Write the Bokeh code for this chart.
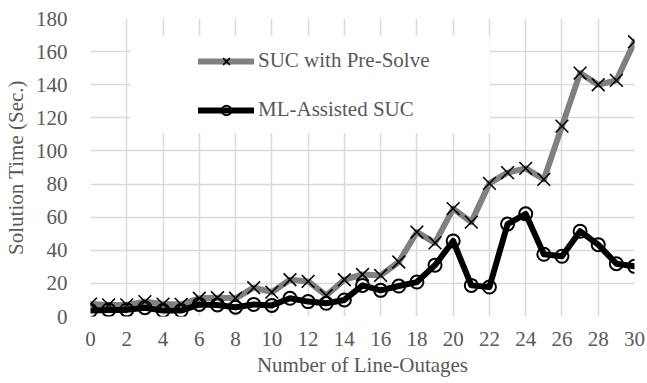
from bokeh.plotting import figure
from bokeh.models import Range1d, FixedTicker, Legend, LegendItem, BoxAnnotation
from bokeh.embed import file_html
from bokeh.resources import INLINE

outages = list(range(0, 31))
suc_presolve = [7.5, 7, 7, 9, 7.5, 7.3, 11, 11.3, 11, 17.4, 14.7,
                22.2, 21.2, 12.7, 22.2, 25.4, 24.8, 32.9, 51, 44.5, 65.2,
                57, 80.4, 86.9, 89.5, 82.8, 115, 147, 140, 142.6, 166]
ml_assisted = [3.6, 4, 4, 5.3, 3.6, 3.6, 7.3, 7, 5.6, 7.3, 6.7,
               11, 9, 8, 10, 18.8, 15.8, 18.4, 20.8, 31, 45.6,
               18.8, 17.8, 55.8, 62, 37.6, 36.4, 51.5, 43.4, 31.9, 30.3]
x_ticks = list(range(0, 31, 2))
y_ticks = list(range(0, 181, 20))

FONT = "'Liberation Serif', 'Times New Roman', serif"
TXT = "#595959"
GRID = "#d9d9d9"

p = figure(width=647, height=383, output_backend="svg", toolbar_location=None,
           x_range=Range1d(0, 30), y_range=Range1d(0, 180),
           min_border_left=88, min_border_right=13, min_border_top=18,
           min_border_bottom=67)
p.outline_line_color = None
p.background_fill_color = "white"

p.xaxis.ticker = FixedTicker(ticks=x_ticks)
p.yaxis.ticker = FixedTicker(ticks=y_ticks)
p.xgrid.ticker = FixedTicker(ticks=x_ticks)
p.ygrid.ticker = FixedTicker(ticks=y_ticks)
for g in (p.xgrid, p.ygrid):
    g.grid_line_color = GRID
    g.grid_line_width = 1.5

for ax in (p.xaxis, p.yaxis):
    ax.axis_line_color = None
    ax.major_tick_line_color = None
    ax.minor_tick_line_color = None
    ax.major_label_text_font = FONT
    ax.major_label_text_font_size = "21px"
    ax.major_label_text_color = TXT
    ax.axis_label_text_font = FONT
    ax.axis_label_text_font_style = "normal"
    ax.axis_label_text_color = TXT
    ax.axis_label_text_font_size = "21px"

p.xaxis.axis_label = "Number of Line-Outages"
p.yaxis.axis_label = "Solution Time (Sec.)"
p.xaxis.major_label_standoff = 9
p.xaxis.axis_label_standoff = 4
p.yaxis.major_label_standoff = 17
p.yaxis.axis_label_standoff = 5

l1 = p.line(outages, suc_presolve, line_color="#808080", line_width=6,
            line_join="round", line_cap="round")
m1 = p.scatter(outages, suc_presolve, marker="x", size=18,
               line_color="black", line_width=1.6)
l2 = p.line(outages, ml_assisted, line_color="black", line_width=6,
            line_join="round", line_cap="round")
m2 = p.scatter(outages, ml_assisted, marker="circle", size=13,
               line_color="black", line_width=2, fill_color=None)

# white legend panel
box = BoxAnnotation(left=2.2, right=22.03, top=169.7, bottom=110.9,
                    fill_color="white", fill_alpha=1.0, line_color=None)
p.add_layout(box)

legend = Legend(items=[LegendItem(label="SUC with Pre-Solve", renderers=[l1, m1]),
                       LegendItem(label="ML-Assisted SUC", renderers=[l2, m2])],
                location=(108, 194), orientation="vertical",
                background_fill_alpha=0, border_line_color=None,
                padding=0, margin=0, spacing=24,
                glyph_width=56, glyph_height=24, label_height=24,
                label_standoff=4, label_text_font=FONT,
                label_text_font_size="21px", label_text_color=TXT)
p.add_layout(legend, "center")

open("out.html", "w").write(file_html(p, INLINE))
